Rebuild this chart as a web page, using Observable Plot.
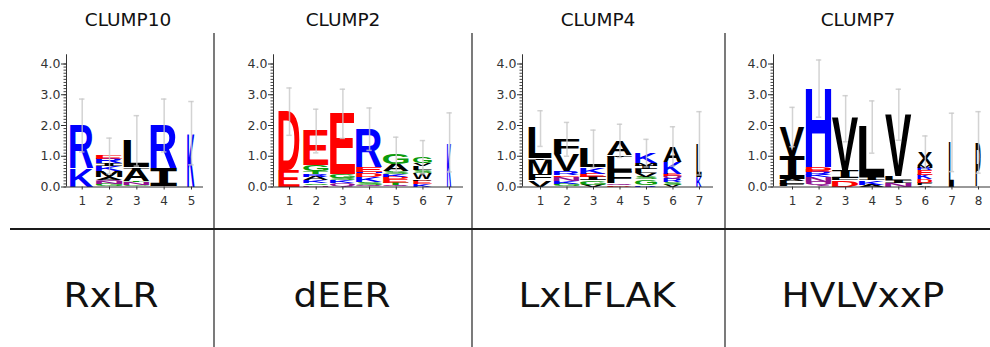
<!DOCTYPE html>
<html>
<head>
<meta charset="utf-8">
<script src="https://cdn.jsdelivr.net/npm/d3@7"></script>
<script src="https://cdn.jsdelivr.net/npm/@observablehq/plot@0.6"></script>
<style>
  body { margin: 0; background: #fff; }
  #fig { position: relative; width: 990px; height: 347px; overflow: hidden; font-family: "DejaVu Sans", sans-serif; }
  #fig .panel { position: absolute; top: 40px; }
  #overlay { position: absolute; left: 0; top: 0; pointer-events: none; }
</style>
</head>
<body>
<div id="fig"></div>
<script>
// Panel titles and the consensus motif written under each logo
const titles = ["CLUMP10", "CLUMP2", "CLUMP4", "CLUMP7"];
const motifs = ["RxLR", "dEER", "LxLFLAK", "HVLVxxP"];

// Letter stacks per position, bottom to top: [residue, bits]
const clump10Stacks = [
  [["K", 0.60], ["R", 1.40]],
  [["G", 0.08], ["N", 0.07], ["Q", 0.07], ["A", 0.10], ["M", 0.20], ["K", 0.15], ["I", 0.08], ["R", 0.16], ["E", 0.10]],
  [["G", 0.04], ["N", 0.10], ["T", 0.04], ["A", 0.40], ["I", 0.05], ["L", 0.87]],
  [["G", 0.03], ["I", 0.57], ["R", 1.40]],
  [["K", 1.75]]
];
const clump10Errors = [0.86, 0.58, 0.82, 0.86, 1.03];
const clump10Widths = [0.86, 0.97, 0.95, 0.97, 0.27];

const clump2Stacks = [
  [["E", 0.55], ["D", 1.90]],
  [["N", 0.05], ["S", 0.05], ["K", 0.10], ["A", 0.12], ["R", 0.08], ["T", 0.10], ["G", 0.20], ["E", 1.12]],
  [["Q", 0.10], ["K", 0.10], ["S", 0.08], ["G", 0.12], ["E", 1.98]],
  [["Q", 0.06], ["S", 0.10], ["K", 0.15], ["D", 0.12], ["H", 0.05], ["E", 0.17], ["R", 1.23]],
  [["Q", 0.05], ["T", 0.08], ["E", 0.10], ["D", 0.08], ["K", 0.08], ["S", 0.10], ["A", 0.25], ["G", 0.32]],
  [["K", 0.08], ["E", 0.10], ["P", 0.05], ["W", 0.22], ["S", 0.10], ["L", 0.12], ["V", 0.08], ["G", 0.22]],
  [["K", 1.45]]
];
const clump2Errors = [0.77, 0.71, 0.80, 0.69, 0.56, 0.54, 0.96];
const clump2Widths = [0.80, 0.94, 0.94, 0.98, 0.96, 0.70, 0.16];

const clump4Stacks = [
  [["V", 0.20], ["F", 0.22], ["M", 0.45], ["I", 0.05], ["L", 0.98]],
  [["G", 0.08], ["K", 0.10], ["N", 0.14], ["E", 0.05], ["R", 0.13], ["V", 0.55], ["F", 0.50]],
  [["V", 0.06], ["G", 0.14], ["I", 0.12], ["E", 0.10], ["K", 0.22], ["L", 0.60]],
  [["D", 0.05], ["Q", 0.06], ["F", 0.38], ["L", 0.48], ["I", 0.05], ["A", 0.48]],
  [["R", 0.05], ["G", 0.18], ["S", 0.07], ["V", 0.14], ["L", 0.12], ["I", 0.12], ["M", 0.08], ["K", 0.34]],
  [["V", 0.06], ["S", 0.10], ["R", 0.10], ["Q", 0.08], ["E", 0.08], ["K", 0.38], ["A", 0.52]],
  [["K", 0.32], ["L", 1.10]]
];
const clump4Errors = [0.58, 0.55, 0.61, 0.54, 0.45, 0.64, 1.03];
const clump4Widths = [0.88, 0.97, 0.98, 0.94, 0.83, 0.69, 0.20];

const clump7Stacks = [
  [["F", 0.07], ["L", 0.10], ["A", 0.06], ["I", 0.75], ["V", 0.97]],
  [["Q", 0.15], ["N", 0.15], ["K", 0.06], ["R", 0.10], ["E", 0.06], ["D", 0.10], ["H", 2.58]],
  [["D", 0.20], ["L", 0.08], ["I", 0.25], ["V", 1.69]],
  [["A", 0.06], ["K", 0.14], ["I", 0.10], ["L", 1.65]],
  [["N", 0.12], ["I", 0.10], ["L", 0.12], ["V", 2.01]],
  [["V", 0.05], ["F", 0.08], ["D", 0.10], ["K", 0.16], ["E", 0.15], ["R", 0.06], ["M", 0.10], ["X", 0.42]],
  [["L", 1.45]],
  [["P", 1.45]]
];
const clump7Errors = [0.64, 0.93, 0.75, 0.85, 0.83, 0.54, 0.95, 1.00];
const clump7Widths = [0.94, 0.97, 1.00, 0.97, 1.00, 0.56, 0.19, 0.19];

// Residue classes (WebLogo "chemistry" scheme)
const classOf = {
  G: "polar", S: "polar", T: "polar", Y: "polar", C: "polar",
  Q: "neutral", N: "neutral",
  K: "basic", R: "basic", H: "basic",
  D: "acidic", E: "acidic",
  A: "hydrophobic", V: "hydrophobic", L: "hydrophobic", I: "hydrophobic",
  P: "hydrophobic", W: "hydrophobic", F: "hydrophobic", M: "hydrophobic",
  X: "other"
};
const classNames = ["polar", "neutral", "basic", "acidic", "hydrophobic", "other"];
const classColors = ["#0b9b0b", "#901090", "#0000ff", "#ff0000", "#000000", "#000000"];

const panels = [
  {stacks: clump10Stacks, errors: clump10Errors, widths: clump10Widths, axisX: 66, right: 203, domain: [0.425, 5.44]},
  {stacks: clump2Stacks, errors: clump2Errors, widths: clump2Widths, axisX: 273, right: 463, domain: [0.40, 7.52]},
  {stacks: clump4Stacks, errors: clump4Errors, widths: clump4Widths, axisX: 522, right: 713, domain: [0.32, 7.53]},
  {stacks: clump7Stacks, errors: clump7Errors, widths: clump7Widths, axisX: 773, right: 990, domain: [0.285, 8.45]}
];

const svgNS = "http://www.w3.org/2000/svg";
// Logo glyph face; "I" uses the serifed monospace form so it reads as a letter
const fontFor = ch => ch === "I" ? "DejaVu Sans Mono" : "Liberation Sans";
const measureCtx = document.createElement("canvas").getContext("2d");
measureCtx.textAlign = "left";
measureCtx.textBaseline = "alphabetic";
const glyphBoxes = new Map();
function glyphBox(ch) {
  if (!glyphBoxes.has(ch)) {
    measureCtx.font = `bold 100px "${fontFor(ch)}"`;
    const m = measureCtx.measureText(ch);
    glyphBoxes.set(ch, {
      left: m.actualBoundingBoxLeft, right: m.actualBoundingBoxRight,
      ascent: m.actualBoundingBoxAscent, descent: m.actualBoundingBoxDescent
    });
  }
  return glyphBoxes.get(ch);
}

// Stack rows: each residue occupies [y1, y2] bits over [x1, x2]
function stackRows(stacks, widths) {
  const rows = [];
  stacks.forEach((stack, k) => {
    const pos = k + 1;
    let base = 0;
    for (const [letter, bits] of stack) {
      rows.push({pos, letter, cls: classOf[letter], y1: base, y2: base + bits,
                 x1: pos - widths[k] / 2, x2: pos + widths[k] / 2});
      base += bits;
    }
  });
  return rows;
}
function errorRows(stacks, errors) {
  return stacks.map((stack, k) => {
    const total = d3.sum(stack, d => d[1]);
    return {pos: k + 1, lo: total - errors[k], hi: total + errors[k]};
  });
}

// Draws each rect as its residue letter stretched to fill the rect
function letterRender(rows) {
  return (index, scales, values) => {
    const g = document.createElementNS(svgNS, "g");
    for (const i of index) {
      const x1 = values.x1[i], x2 = values.x2[i];
      const yb = values.y1[i], yt = values.y2[i];
      const h = yb - yt, w = x2 - x1;
      if (h < 0.2 || w <= 0) continue;
      const ch = rows[i].letter;
      const b = glyphBox(ch);
      const sx = w / (b.left + b.right);
      const sy = h / (b.ascent + b.descent);
      const t = document.createElementNS(svgNS, "text");
      t.setAttribute("font-family", fontFor(ch));
      t.setAttribute("font-weight", "bold");
      t.setAttribute("font-size", 100);
      t.setAttribute("text-anchor", "start");
      t.setAttribute("fill", values.fill[i]);
      t.setAttribute("transform", `translate(${x1 + b.left * sx},${yb - b.descent * sy}) scale(${sx},${sy})`);
      t.textContent = ch;
      g.appendChild(t);
    }
    return g;
  };
}

const fig = document.getElementById("fig");
const TOP = 40, H = 180, Y0 = 186.5, PX_PER_BIT = 30.75, YMAX = 4.3;

panels.forEach(p => {
  const rows = stackRows(p.stacks, p.widths);
  const errs = errorRows(p.stacks, p.errors);
  const n = p.stacks.length;
  const marginLeft = 40;
  const marginRight = 990 - p.right < 10 ? 0 : 10;
  const width = marginLeft + (p.right - p.axisX) + marginRight;
  const marginBottom = TOP + H - Y0;
  const marginTop = Y0 - YMAX * PX_PER_BIT - TOP;
  const cap = 0.1;
  const chart = Plot.plot({
    width, height: H,
    marginLeft, marginRight, marginTop, marginBottom,
    style: {fontFamily: "DejaVu Sans", fontSize: "11px", color: "#333", background: "transparent", overflow: "visible"},
    x: {domain: p.domain},
    y: {domain: [0, YMAX]},
    color: {domain: classNames, range: classColors},
    marks: [
      Plot.axisY({ticks: d3.range(0, 4.05, 0.1), tickSize: 2.5, tickFormat: () => "", label: null, stroke: "#444"}),
      Plot.axisY({ticks: [0, 1, 2, 3, 4], tickSize: 5, tickPadding: 1, tickFormat: d3.format(".1f"), label: null, fontSize: 12.5, color: "#333"}),
      Plot.axisX({ticks: d3.range(1, n + 1), tickSize: 3, tickPadding: 6, tickFormat: d => String(d), label: null, fontSize: 12, color: "#333"}),
      Plot.rect(rows, {x1: "x1", x2: "x2", y1: "y1", y2: "y2", fill: "cls", render: letterRender(rows)}),
      Plot.ruleX(errs, {x: "pos", y1: "lo", y2: "hi", stroke: "#c8c8c8", strokeWidth: 1.5, strokeOpacity: 0.8}),
      Plot.ruleY(errs, {y: "hi", x1: d => d.pos - cap, x2: d => d.pos + cap, stroke: "#c8c8c8", strokeWidth: 1.5, strokeOpacity: 0.8}),
      Plot.ruleY(errs, {y: "lo", x1: d => d.pos - cap, x2: d => d.pos + cap, stroke: "#c8c8c8", strokeWidth: 1.5, strokeOpacity: 0.8}),
      Plot.ruleX([p.domain[0]], {y1: 0, y2: YMAX, stroke: "#333"}),
      Plot.ruleY([0], {stroke: "#333"})
    ]
  });
  chart.classList.add("panel");
  chart.style.left = (p.axisX - marginLeft) + "px";
  fig.appendChild(chart);
});

// Frame lines, panel titles and motif labels
const overlay = d3.select(fig).append("svg")
  .attr("id", "overlay").attr("width", 990).attr("height", 347);
const dividerX = [214, 472, 725];
const titleX = [128, 343, 598, 858];
const motifX = [111, 342, 597, 863];
overlay.selectAll("line.div").data(dividerX).join("line")
  .attr("x1", d => d).attr("x2", d => d).attr("y1", 33).attr("y2", 347)
  .attr("stroke", "#333").attr("stroke-width", 1.3);
overlay.append("line").attr("x1", 10).attr("x2", 990).attr("y1", 229).attr("y2", 229)
  .attr("stroke", "#1a1a1a").attr("stroke-width", 2.2);
overlay.selectAll("text.title").data(titles).join("text")
  .attr("x", (d, i) => titleX[i]).attr("y", 26)
  .attr("text-anchor", "middle").attr("font-size", 18.5).attr("fill", "#111")
  .attr("font-family", "DejaVu Sans").text(d => d);
overlay.selectAll("text.motif").data(motifs).join("text")
  .attr("transform", (d, i) => `translate(${motifX[i]},307) scale(1.1,1)`)
  .attr("text-anchor", "middle").attr("font-size", 34).attr("fill", "#111")
  .attr("font-family", "DejaVu Sans").text(d => d);
</script>
</body>
</html>
